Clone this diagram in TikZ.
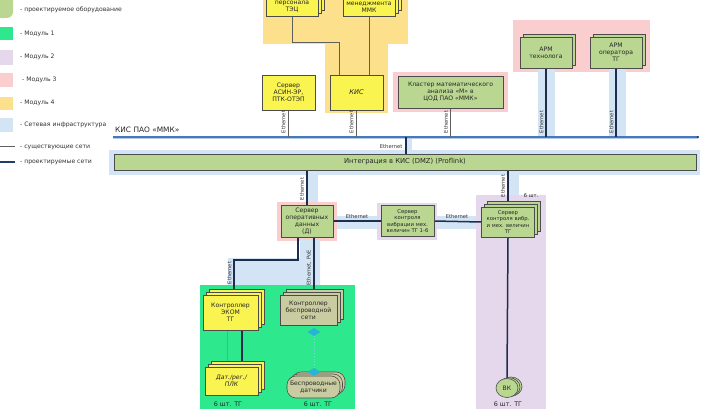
\documentclass[tikz,border=0pt]{standalone}
\usepackage{fontspec}
\setmainfont{DejaVu Sans}
\usetikzlibrary{shadows,shapes.geometric}
\pgfdeclarelayer{bg}\pgfdeclarelayer{ln}\pgfsetlayers{bg,ln,main}
\definecolor{cyel}{RGB}{250,244,80}
\definecolor{cybg}{RGB}{253,224,140}
\definecolor{cgrn}{RGB}{186,215,145}
\definecolor{cmod}{RGB}{45,232,140}
\definecolor{clav}{RGB}{229,216,236}
\definecolor{cpink}{RGB}{250,206,206}
\definecolor{clb}{RGB}{211,228,245}
\definecolor{ckha}{RGB}{200,204,160}
\definecolor{cdark}{RGB}{30,45,75}
\definecolor{cblue}{RGB}{70,120,190}
\definecolor{clgr}{RGB}{95,95,95}
\definecolor{cred}{RGB}{200,120,120}
\definecolor{ccyan}{RGB}{40,180,215}
\newcommand\bxf{\fontsize{6.1}{6.9}\selectfont}
\newcommand\smf{\fontsize{5.3}{6.2}\selectfont}
\newcommand\lgf{\fontsize{6.1}{7}\selectfont}
\newcommand\ethf{\fontsize{5.2}{6}\selectfont}
\begin{document}
\begin{tikzpicture}[x=1pt,y=-1pt,
  box/.style={draw=black!70, line width=0.6pt, align=center, font=\bxf, inner sep=1pt, text=black!85},
  ybox/.style={box, fill=cyel},
  gbox/.style={box, fill=cgrn},
  kbox/.style={box, fill=ckha},
  stk/.style={copy shadow={shadow xshift=6pt, shadow yshift=6pt}, copy shadow={shadow xshift=3pt, shadow yshift=3pt}},
  stkone/.style={copy shadow={shadow xshift=3pt, shadow yshift=3pt}},
  ex/.style={draw=clgr, line width=0.7pt},
  pr/.style={draw=cdark, line width=1.5pt},
  eth/.style={font=\ethf, rotate=90, inner sep=0.5pt, text=black!80},
  ethh/.style={font=\ethf, inner sep=0.5pt, text=black!80},
  legt/.style={font=\lgf, anchor=west, text=black!80, inner sep=0pt},
  cnt/.style={font=\fontsize{6.4}{7}\selectfont, inner sep=0pt, text=black!85},
  wif/.style={diamond, fill=ccyan, minimum width=13pt, minimum height=8pt, inner sep=0pt}
]
\useasboundingbox (0,0) rectangle (706,409);
% ---------- nodes ----------
\node[ybox, stk, minimum width=52pt, minimum height=18pt] (pers) at (292,7) {персонала\\ТЭЦ};
\node[ybox, stk, minimum width=52pt, minimum height=18pt] (men) at (369,7) {менеджмента\\ММК};
\node[ybox, minimum width=53pt, minimum height=35pt] (asin) at (288.5,92.5) {Сервер\\АСИН-ЭР,\\ПТК-ОТЭП};
\node[ybox, minimum width=53pt, minimum height=35pt, font=\fontsize{6.6}{7.5}\selectfont\itshape] (kis) at (356.5,92.5) {КИС};
\node[gbox, minimum width=105pt, minimum height=32pt] (clus) at (450.5,92) {Кластер математического\\анализа «М» в\\ЦОД ПАО «ММК»};
\node[gbox, stkone, minimum width=52pt, minimum height=31pt] (armt) at (546,52.5) {АРМ\\технолога};
\node[gbox, stkone, minimum width=52pt, minimum height=31pt] (armo) at (616,52.5) {АРМ\\оператора\\ТГ};
\node[gbox, minimum width=582pt, minimum height=16pt, font=\fontsize{6.8}{8}\selectfont] (bar) at (405,162) {Интеграция в КИС (DMZ) (Proflink)};
\node[gbox, minimum width=52pt, minimum height=32pt] (sod) at (307,221) {Сервер\\оперативных\\данных\\(Д)};
\node[gbox, minimum width=53pt, minimum height=31pt, font=\smf] (svib) at (407.5,221) {Сервер\\контроля\\вибрации мех.\\величин ТГ 1-6};
\node[gbox, stk, minimum width=53pt, minimum height=30pt, font=\smf] (svr) at (508,222) {Сервер\\контроля вибр.\\и мех. величин\\ТГ};
\node[ybox, stk, minimum width=55pt, minimum height=35pt] (ekom) at (230.5,312.5) {Контроллер\\ЭКОМ\\ТГ};
\node[kbox, stk, minimum width=57pt, minimum height=30pt] (ctrlw) at (308.5,310) {Контроллер\\беспроводной\\сети};
\node[ybox, stk, minimum width=53pt, minimum height=28pt, font=\bxf\itshape] (dat) at (231.5,381) {Дат./рег./\\ПЛК};
\node[kbox, copy shadow={shadow xshift=5pt, shadow yshift=4pt}, copy shadow={shadow xshift=2.5pt, shadow yshift=2pt}, rounded corners=9pt, minimum width=53pt, minimum height=22pt] (wsen) at (313.5,387) {Беспроводные\\датчики};
\node[gbox, ellipse, copy shadow={shadow xshift=4pt, shadow yshift=1.5pt}, copy shadow={shadow xshift=2pt, shadow yshift=0.8pt}, minimum width=22pt, minimum height=19pt, inner sep=0pt] (vk) at (507,388) {ВК};
\node[wif] (w1) at (314,332) {};
\node[wif] (w2) at (314,372) {};
% counts
\node[cnt] (n1) at (228,404) {6 шт. ТГ};
\node[cnt] (n2) at (318,404) {6 шт. ТГ};
\node[cnt] (n3) at (508,404) {6 шт. ТГ};
\node[cnt, font=\ethf] (n4) at (531,196) {6 шт.};
% KIS line label
\node[font=\fontsize{7.4}{8}\selectfont, anchor=west, inner sep=0pt, text=black!85] (kislab) at (115,130) {КИС ПАО «ММК»};
\coordinate (kisL) at (113,137);
\coordinate (kisR) at (698,137);
\coordinate (kb) at (406,137);
\coordinate (t1) at (0,42);
% legend
\node[legt] (lg1) at (20,10) {- проектируемое оборудование};
\node[legt] (lg2) at (20,34) {- Модуль 1};
\node[legt] (lg3) at (20,57) {- Модуль 2};
\node[legt] (lg4) at (22,80) {- Модуль 3};
\node[legt] (lg5) at (20,103) {- Модуль 4};
\node[legt] (lg6) at (20,125) {- Сетевая инфраструктура};
\node[legt] (lg7) at (20,147) {- существующие сети};
\node[legt] (lg8) at (20,162) {- проектируемые сети};
% ethernet labels
\node[eth] (e1) at (283.5,122) {Ethernet};
\node[eth] (e2) at (351.5,122) {Ethernet};
\node[eth] (e3) at (446,122) {Ethernet};
\node[eth] (e4) at (541.5,122) {Ethernet};
\node[eth] (e5) at (611.5,122) {Ethernet};
\node[ethh, anchor=east] (e6) at (403,147) {Ethernet};
\node[eth] (e7) at (302,189) {Ethernet};
\node[eth] (e8) at (503,186) {Ethernet};
\node[ethh] (e9) at (357,216.5) {Ethernet};
\node[ethh] (e10) at (457,216.5) {Ethernet};
\node[eth] (e11) at (229.5,273) {Ethernet};
\node[eth] (e12) at (309,268) {Ethernet, PoE};
% ---------- backgrounds ----------
\begin{pgfonlayer}{bg}
\fill[white] (0,0) rectangle (706,409);
% legend swatches
\fill[cgrn, rounded corners=6pt] (-6,-10) rectangle (13,18);
\fill[cmod] (0,27) rectangle (13,40);
\fill[clav] (0,50) rectangle (13,65);
\fill[cpink] (0,73) rectangle (13,87);
\fill[cybg] (0,97) rectangle (13,110);
\fill[clb] (0,118) rectangle (13,132);
\draw[ex] (0,146) -- (15,146);
\draw[pr, draw=cdark!80!cblue] (0,162) -- (15,162);
% module regions
\fill[cybg] (263,-5) rectangle (408,44);
\fill[cybg] (325,44) rectangle (388,113);
\fill[cpink] (393,72) rectangle (508,112);
\fill[cpink] (513,20) rectangle (650,72);
\fill[clb] (538,68) rectangle (555,137);
\fill[clb] (609,68) rectangle (626,137);
\fill[clb] (406,137) rectangle (412,151);
\fill[clb] (109,150) rectangle (700,175);
\fill[clb] (306,175) rectangle (318,205);
\fill[clb] (507,175) rectangle (519,196);
\fill[clb] (333,216) rectangle (480,229);
\fill[cpink] (277,202) rectangle (337,241);
\fill[clav] (377,203) rectangle (437,240);
\fill[clav] (476,195) rectangle (546,412);
\fill[clb] (228,258) -- (300,258) -- (300,240) -- (320,240) -- (320,286) -- (228,286) -- cycle;
\fill[cmod] (200,285) rectangle (355,412);
\end{pgfonlayer}
% ---------- connectors ----------
\begin{pgfonlayer}{ln}
\draw[cblue!40, line width=1.5pt] ([yshift=-1.5pt]kisL) -- ([yshift=-1.5pt]kisR);
\draw[cblue, line width=2pt] (kisL) -- (kisR);
\fill[cdark] (kisR) circle (1.2pt);
\draw[ex] (pers.south) |- ([xshift=-17.5pt]kis.north |- t1) -- ([xshift=-17.5pt]kis.north);
\draw[ex] (men.south) -- (men.south |- kis.north);
\draw[ex] (asin.south) -- (asin.south |- kisL);
\draw[ex] (kis.south) -- (kis.south |- kisL);
\draw[ex] (clus.south) -- (clus.south |- kisL);
\draw[pr] (armt.south) -- (armt.south |- kisL);
\draw[pr] (armo.south) -- (armo.south |- kisL);
\draw[pr] (kb) -- (kb |- bar.north);
\draw[pr] (sod.north |- bar.south) -- (sod.north);
\draw[pr] (svr.north |- bar.south) -- (svr.north);
\draw[pr] (sod.east) -- (svib.west);
\draw[pr] (svib.east) -- (svr.west);
\coordinate (j1) at (234,260);
\draw[pr] ([xshift=-9pt]sod.south) |- (j1) -- (j1 |- ekom.north);
\draw[pr] ([xshift=7pt]sod.south) -- ([xshift=7pt]sod.south |- ctrlw.north);
\draw[line width=0.9pt, draw=cred] ([xshift=-3pt]ekom.south) -- ([xshift=-3pt]ekom.south |- dat.north);
\draw[pr] ([xshift=11.5pt]ekom.south) -- ([xshift=11.5pt]ekom.south |- dat.north);
\draw[ccyan!60, line width=0.8pt, dotted] (w1) -- (w2);
\draw[pr] (svr.south) -- (vk.north);
\end{pgfonlayer}
\end{tikzpicture}
\end{document}
